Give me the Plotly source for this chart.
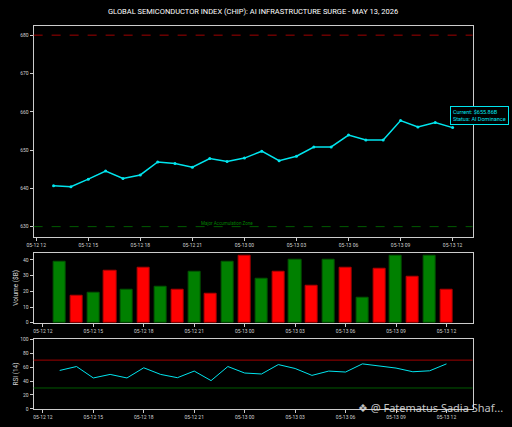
import pandas as pd
import plotly.graph_objects as go

# ---------------- data ----------------
times = pd.date_range("2026-05-12 13:00", "2026-05-13 12:00", freq="h")
price = [640.7, 640.4, 642.4, 644.5, 642.6, 643.5, 646.9, 646.5, 645.5, 647.8,
         647.0, 647.9, 649.7, 647.2, 648.4, 650.8, 650.8, 653.9, 652.6, 652.6,
         657.7, 656.0, 657.2, 655.86]
volume = [39.1, 16.9, 19.4, 33.3, 21.0, 35.2, 23.1, 21.2, 32.5, 18.3,
          39.1, 42.7, 28.3, 32.3, 40.2, 23.3, 40.2, 35.2, 16.2, 34.6,
          42.7, 29.4, 42.7, 21.2]
vol_up = [True, False] * 12
rsi = [55.2, 60.8, 44.4, 49.5, 44.4, 59.0, 49.5, 44.8, 54.3, 40.6,
       60.8, 51.5, 50.1, 63.6, 58.0, 48.1, 54.3, 52.9, 64.6, 61.4,
       58.6, 53.3, 54.7, 64.6]
resistance = 680
support = 630
rsi_high = 70
rsi_low = 30
title = "GLOBAL SEMICONDUCTOR INDEX (CHIP): AI INFRASTRUCTURE SURGE - MAY 13, 2026"
price_ticks = [630, 640, 650, 660, 670, 680]
vol_ticks = [0, 10, 20, 30, 40]
rsi_ticks = [0, 20, 40, 60, 80, 100]

# ---------------- styles ----------------
W, H = 512, 427
FONT = "Roboto, Liberation Sans, sans-serif"
TICKC = "#d0d0d0"
SPINE = "#cccccc"
X0, X1 = 27 / W, 472 / W

def py(top, bottom):
    return [(H - bottom) / H, (H - top) / H]

fig = go.Figure()

fig.add_trace(go.Scatter(
    x=times, y=price, mode="lines+markers",
    line=dict(color="#00e5ee", width=1.5),
    marker=dict(color="#00e5ee", size=3),
    xaxis="x", yaxis="y", showlegend=False))

bar_colors = ["#008000" if u else "#ff0000" for u in vol_up]
edge_colors = ["#005500" if u else "#b00000" for u in vol_up]
fig.add_trace(go.Bar(
    x=times, y=volume, width=0.72 * 3600 * 1000,
    marker=dict(color=bar_colors, line=dict(color=edge_colors, width=1)),
    xaxis="x2", yaxis="y2", showlegend=False))

fig.add_trace(go.Scatter(
    x=times, y=rsi, mode="lines",
    line=dict(color="#00e5ee", width=1),
    xaxis="x3", yaxis="y3", showlegend=False))

axis_common = dict(
    showgrid=False, zeroline=False, showline=True, mirror=True,
    linecolor=SPINE, linewidth=1, ticks="outside", ticklen=3,
    tickcolor=SPINE, tickwidth=1,
    tickfont=dict(family=FONT, size=5, color=TICKC))

xdate = dict(type="date", tickformat="%m-%d %H",
             tick0="2026-05-12 12:00", dtick=3 * 3600 * 1000)

main_range = ["2026-05-12 11:51", "2026-05-13 13:09"]
sub_range = ["2026-05-12 11:27", "2026-05-13 13:33"]

fig.update_layout(
    width=W, height=H,
    margin=dict(l=0, r=0, t=0, b=0),
    paper_bgcolor="black", plot_bgcolor="black",
    bargap=0,
    xaxis=dict(domain=[X0, X1], anchor="y", range=main_range, **xdate, **axis_common),
    yaxis=dict(domain=py(23.3, 237.3), anchor="x", range=[627.3, 682.4],
               tickvals=price_ticks, **axis_common),
    xaxis2=dict(domain=[X0, X1], anchor="y2", range=sub_range, **xdate, **axis_common),
    yaxis2=dict(domain=py(253.3, 324.3), anchor="x2", range=[0, 44.6],
                tickvals=vol_ticks, **axis_common),
    xaxis3=dict(domain=[X0, X1], anchor="y3", range=sub_range, **xdate, **axis_common),
    yaxis3=dict(domain=py(341, 411.7), anchor="x3", range=[0, 100],
                tickvals=rsi_ticks, **axis_common),
)

# reference lines
fig.add_shape(type="line", xref="x domain", yref="y", x0=0, x1=1,
              y0=resistance, y1=resistance,
              line=dict(color="#a00000", width=1, dash="dash"))
fig.add_shape(type="line", xref="x domain", yref="y", x0=0, x1=1,
              y0=support, y1=support,
              line=dict(color="#005a00", width=1, dash="dash"))
fig.add_shape(type="line", xref="x3 domain", yref="y3", x0=0, x1=1,
              y0=rsi_high, y1=rsi_high, line=dict(color="#a00000", width=1))
fig.add_shape(type="line", xref="x3 domain", yref="y3", x0=0, x1=1,
              y0=rsi_low, y1=rsi_low, line=dict(color="#005a00", width=1))

# texts
fig.add_annotation(text=title, xref="paper", yref="paper", x=249 / W, y=(H - 9) / H,
                   showarrow=False, xanchor="center", yanchor="middle",
                   font=dict(family=FONT, size=7.5, color="white"))
fig.add_annotation(text="Major Accumulation Zone", xref="x", yref="y",
                   x=times[10], y=support, yanchor="bottom", xanchor="center",
                   showarrow=False, yshift=-1,
                   font=dict(family=FONT, size=4.5, color="#008000"))
fig.add_annotation(text=f"Current: ${price[-1]:.2f}B<br>Status: AI Dominance",
                   xref="x", yref="y", x=times[-1], y=price[-1],
                   xanchor="left", yanchor="bottom", xshift=-3, yshift=3,
                   showarrow=False, align="left",
                   bgcolor="black", bordercolor="#00e5ee", borderwidth=1, borderpad=2,
                   font=dict(family=FONT, size=5.5, color="#00e5ee"))
fig.add_annotation(text="Volume ($B)", xref="paper", yref="paper",
                   x=9 / W, y=(H - 289) / H, textangle=-90, showarrow=False,
                   xanchor="center", yanchor="middle",
                   font=dict(family=FONT, size=6.5, color=TICKC))
fig.add_annotation(text="RSI (14)", xref="paper", yref="paper",
                   x=9 / W, y=(H - 376) / H, textangle=-90, showarrow=False,
                   xanchor="center", yanchor="middle",
                   font=dict(family=FONT, size=6.5, color=TICKC))
fig.add_annotation(text="❖ @ Fatematus Sadia Shaf...", xref="paper", yref="paper",
                   x=505 / W, y=(H - 410) / H, xanchor="right", yanchor="middle",
                   showarrow=False,
                   font=dict(family="Noto Sans, DejaVu Sans", size=11,
                             color="rgba(230,230,230,0.85)"))

fig.write_html("out.html",
               config={"displayModeBar": False},
               post_script="document.body.style.margin='0';"
                           "document.body.style.background='black';"
                           "document.body.style.overflow='hidden';")
